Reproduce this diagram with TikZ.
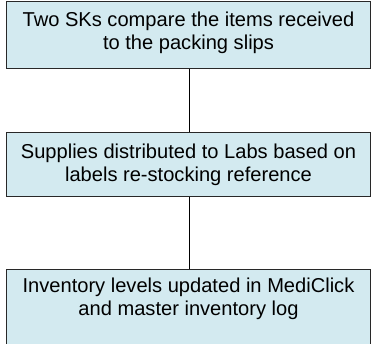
\documentclass[tikz,border=0pt]{standalone}
\usepackage{fontspec}
\setmainfont{Liberation Sans}
\definecolor{boxfill}{RGB}{211,234,240}
\definecolor{boxline}{RGB}{40,40,40}
\begin{document}
\begin{tikzpicture}[x=1pt,y=-1pt,
  stepbox/.style={draw=boxline, fill=boxfill, line width=0.9pt, rectangle, minimum width=364pt, inner sep=0pt},
  steptext/.style={align=center, font=\fontsize{20.1}{23}\selectfont, text=black, inner sep=0pt},
  link/.style={draw=black, line width=0.9pt}]
\useasboundingbox (0,0) rectangle (371,343);
\node (b1) [stepbox, minimum height=67pt, anchor=north west] at (5.5,1) {};
\node (t1) [steptext] at (188.5,33) {Two SKs compare the items received\\to the packing slips};
\node (b2) [stepbox, minimum height=64pt, anchor=north west] at (6,132) {};
\node (t2) [steptext] at (188.5,164.5) {Supplies distributed to Labs based on\\labels re-stocking reference};
\node (b3) [stepbox, minimum height=90pt, anchor=north west] at (6,269) {};
\node (t3) [steptext] at (188.5,298.5) {Inventory levels updated in MediClick\\and master inventory log};
\draw[link] (b1.south -| 189,0) -- (b2.north -| 189,0);
\draw[link] (b2.south -| 189,0) -- (b3.north -| 189,0);
\end{tikzpicture}
\end{document}
